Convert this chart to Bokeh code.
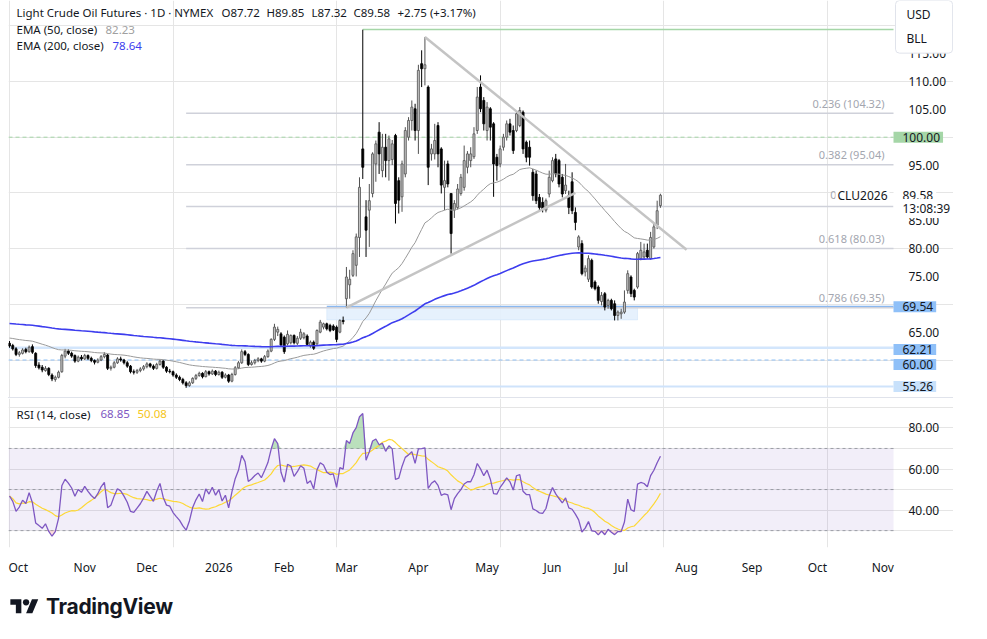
import numpy as np
import pandas as pd
from bokeh.plotting import figure
from bokeh.models import (Range1d, LinearAxis, FixedTicker, Label, BoxAnnotation,
                          Div, ColumnDataSource, NumeralTickFormatter)
from bokeh.layouts import column
from bokeh.embed import file_html
from bokeh.resources import INLINE

# ---------------- data ----------------
FIRST_DAY = "2025-10-01"
HOLIDAYS = ["2025-11-27", "2025-12-25", "2026-01-01", "2026-01-19", "2026-02-16",
            "2026-04-03", "2026-05-25", "2026-06-19", "2026-07-03"]

open_ = [63.0, 62.6, 62.0, 61.0, 61.2, 61.9, 61.5, 62.4, 61.2, 59.1,
         58.7, 58.1, 58.5, 57.3, 56.5, 56.9, 57.9, 60.7, 61.6, 61.2,
         60.8, 59.8, 60.5, 60.2, 60.8, 60.3, 59.9, 59.6, 60.0, 60.6,
         60.9, 58.5, 58.7, 59.5, 60.2, 60.0, 59.5, 58.9, 57.9, 57.8,
         58.1, 58.4, 58.8, 59.3, 58.9, 58.5, 59.2, 59.8, 58.7, 58.0,
         57.9, 57.3, 56.9, 56.5, 55.9, 55.4, 55.9, 56.7, 57.2, 57.6,
         57.0, 57.9, 57.5, 58.0, 57.4, 57.8, 56.9, 57.3, 56.2, 57.4,
         58.6, 59.5, 61.5, 61.0, 59.2, 59.5, 59.9, 60.2, 59.8, 60.6,
         61.6, 63.7, 65.0, 64.7, 64.1, 62.9, 63.1, 64.4, 63.0, 63.9,
         64.0, 64.3, 62.5, 63.2, 62.9, 65.0, 65.9, 66.5, 66.2, 66.1,
         65.9, 65.0, 67.1,
         71.0, 73.5, 75.2, 77.0, 82.0, 97.9, 85.7, 86.9, 89.9, 95.2,
         100.9, 94.0, 98.2, 95.8, 96.0, 100.3, 92.2, 89.3, 93.4, 100.0,
         103.0, 105.1, 101.2, 113.2, 112.3, 109.0, 97.0, 97.0, 102.1, 97.9,
         91.0, 95.2, 89.9, 86.9, 87.4, 89.9, 91.0, 94.6, 95.8, 96.5,
         101.2, 109.0, 106.6, 101.2, 105.1, 102.4, 96.4, 95.2, 98.2, 100.0,
         102.4, 101.2, 101.2, 102.1, 104.5, 99.1, 98.2, 93.7, 93.4, 89.2,
         88.3, 86.9, 89.8, 92.2, 96.1, 95.8, 92.8, 90.4, 89.5, 92.0,
         86.5, 80.3, 80.9, 75.8, 74.5, 77.9, 74.0, 73.1, 70.5, 71.9,
         69.8, 70.7, 70.1, 68.0, 68.3, 68.6, 72.5, 74.9, 72.5, 73.1,
         78.2, 78.5, 79.7, 78.2, 80.3, 84.2, 87.72]
high = [63.4, 62.9, 62.3, 61.6, 62.1, 62.2, 62.6, 62.8, 61.4, 59.6,
        59.1, 58.9, 58.7, 57.6, 57.2, 58.1, 61.1, 62.0, 61.9, 61.5,
        61.0, 60.8, 60.9, 61.1, 61.0, 60.6, 60.1, 60.3, 60.9, 61.4,
        61.1, 59.0, 59.8, 60.5, 60.6, 60.2, 59.8, 59.1, 58.3, 58.4,
        58.7, 59.1, 59.6, 59.5, 59.2, 59.5, 60.1, 60.0, 58.9, 58.4,
        58.1, 57.6, 57.2, 56.8, 56.2, 56.2, 56.9, 57.5, 57.9, 57.8,
        58.2, 58.1, 58.3, 58.2, 58.1, 58.0, 57.6, 57.5, 57.7, 58.9,
        59.8, 61.9, 61.8, 61.2, 59.9, 60.2, 60.5, 60.4, 60.9, 61.9,
        63.9, 66.5, 66.0, 65.0, 64.4, 65.3, 64.6, 64.6, 64.3, 65.6,
        65.0, 64.6, 63.5, 63.5, 65.5, 67.2, 66.7, 66.7, 66.5, 66.4,
        66.2, 67.3, 67.8,
        76.7, 76.2, 79.7, 82.7, 92.8, 119.3, 88.7, 91.6, 97.3, 99.4,
        102.7, 100.6, 100.6, 100.3, 99.5, 100.6, 92.8, 95.8, 101.8, 103.6,
        106.6, 106.0, 113.0, 115.6, 118.0, 109.3, 98.8, 102.4, 102.7, 98.2,
        95.8, 95.8, 89.9, 88.7, 91.6, 93.4, 98.5, 97.5, 98.2, 101.8,
        109.0, 111.1, 107.2, 106.3, 105.4, 102.7, 97.0, 98.5, 100.6, 103.0,
        103.3, 102.1, 104.5, 105.4, 104.8, 99.4, 99.4, 94.3, 94.0, 89.8,
        89.2, 89.0, 94.0, 96.4, 97.0, 96.1, 93.4, 95.2, 90.4, 93.7,
        87.4, 82.4, 81.5, 77.0, 78.8, 78.2, 74.3, 73.4, 72.2, 72.2,
        71.0, 71.0, 70.7, 68.9, 69.2, 72.5, 76.1, 75.2, 72.8, 79.4,
        81.2, 80.9, 80.9, 83.0, 84.5, 88.6, 89.85]
low = [62.2, 61.7, 60.7, 60.6, 61.0, 61.2, 61.3, 61.1, 58.6, 58.3,
       57.8, 57.9, 57.1, 56.2, 56.1, 56.7, 57.7, 60.3, 60.9, 60.4,
       59.5, 59.6, 59.9, 60.0, 60.0, 59.6, 59.2, 59.4, 59.8, 60.3,
       58.2, 58.1, 58.5, 59.3, 59.7, 59.2, 58.6, 57.6, 57.4, 57.5,
       57.8, 58.1, 58.5, 58.6, 58.2, 58.3, 59.0, 58.4, 57.7, 57.6,
       57.0, 56.6, 56.2, 55.6, 55.0, 55.2, 55.7, 56.4, 57.0, 56.7,
       56.9, 57.2, 57.3, 57.1, 57.2, 56.6, 56.7, 55.9, 56.0, 57.2,
       58.4, 59.3, 60.7, 58.9, 59.0, 59.2, 59.6, 59.5, 59.6, 60.4,
       61.4, 63.4, 64.3, 62.4, 61.1, 62.6, 62.8, 62.8, 62.7, 63.6,
       63.7, 62.5, 62.2, 61.8, 62.7, 64.8, 65.5, 65.3, 65.0, 65.2,
       63.2, 64.8, 66.4,
       69.4, 71.0, 74.9, 75.0, 78.5, 92.5, 78.5, 80.3, 89.2, 92.0,
       93.4, 92.8, 92.8, 92.2, 95.0, 84.5, 86.3, 86.6, 92.8, 99.4,
       101.2, 99.4, 97.0, 109.0, 109.3, 91.4, 95.8, 96.0, 94.6, 89.9,
       86.9, 91.0, 79.1, 85.5, 87.0, 89.5, 90.4, 93.5, 94.6, 96.1,
       100.6, 104.5, 101.2, 99.4, 99.4, 89.3, 92.2, 94.6, 97.6, 99.4,
       100.3, 97.0, 100.9, 101.8, 97.0, 95.5, 94.9, 88.6, 88.0, 86.9,
       86.5, 86.5, 89.2, 91.9, 92.8, 91.0, 89.2, 89.8, 86.2, 86.2,
       83.3, 79.7, 75.2, 75.0, 74.0, 72.8, 72.5, 70.1, 69.8, 68.9,
       69.2, 68.9, 67.1, 67.1, 67.4, 68.3, 71.9, 71.3, 70.7, 72.8,
       77.9, 78.0, 78.2, 78.0, 80.0, 83.5, 87.32]
close = [62.5, 62.0, 61.0, 61.3, 61.8, 61.5, 62.3, 61.4, 59.0, 58.6,
         58.2, 58.5, 57.4, 56.6, 56.9, 57.8, 60.8, 61.6, 61.2, 60.7,
         59.8, 60.5, 60.2, 60.8, 60.3, 59.9, 59.6, 60.0, 60.6, 61.0,
         58.5, 58.7, 59.5, 60.2, 60.0, 59.5, 58.9, 57.9, 57.8, 58.1,
         58.4, 58.8, 59.3, 58.9, 58.5, 59.2, 59.8, 58.7, 58.0, 57.9,
         57.3, 56.9, 56.5, 55.9, 55.4, 55.9, 56.7, 57.2, 57.6, 57.0,
         57.9, 57.5, 58.0, 57.4, 57.8, 56.9, 57.3, 56.2, 57.4, 58.6,
         59.5, 61.5, 61.0, 59.2, 59.5, 59.9, 60.2, 59.8, 60.6, 61.6,
         63.7, 65.9, 65.5, 62.7, 61.5, 64.6, 64.4, 63.1, 63.9, 65.0,
         64.7, 62.8, 63.2, 62.1, 65.3, 66.8, 66.5, 65.6, 65.3, 65.4,
         63.7, 67.1, 66.9,
         74.9, 74.5, 79.1, 82.1, 91.0, 94.6, 83.3, 88.6, 97.0, 98.8,
         97.0, 98.2, 95.8, 99.7, 98.8, 88.1, 88.7, 95.2, 101.2, 103.0,
         105.4, 101.2, 112.0, 112.3, 113.0, 94.6, 97.9, 99.4, 97.0, 91.4,
         92.2, 91.6, 82.7, 88.1, 90.7, 92.8, 95.8, 97.0, 97.0, 100.6,
         107.2, 105.1, 102.4, 105.4, 101.8, 95.2, 94.9, 97.9, 100.0, 102.4,
         100.9, 97.6, 104.2, 104.8, 97.9, 96.4, 96.4, 89.5, 88.6, 87.4,
         87.1, 88.6, 92.8, 95.8, 93.4, 91.6, 89.8, 91.4, 87.4, 86.8,
         84.7, 82.1, 75.5, 76.5, 78.2, 73.1, 72.8, 70.7, 71.6, 69.5,
         70.7, 69.2, 68.0, 68.6, 68.6, 70.4, 75.5, 71.9, 71.3, 79.1,
         79.7, 79.4, 78.5, 82.0, 83.9, 86.8, 89.58]

EMA50_START = 64.0
EMA200_START = 66.6
RSI_SEED_GAIN = 0.30
RSI_SEED_LOSS = 0.34

# drawings (anchor date, price)
FIB_LOW = ("2025-12-17", 55.76)
FIB_HIGH = ("2026-03-09", 119.32)
FIB_LEVELS = [0.236, 0.382, 0.5, 0.618, 0.786]
FIB_TEXT = ["0.236 (104.32)", "0.382 (95.04)", "", "0.618 (80.03)", "0.786 (69.35)"]
TRI_DOWN = [("2026-04-06", 118.0), ("2026-07-30", 79.8)]
TRI_UP = [("2026-03-02", 69.4), ("2026-06-10", 90.0)]
ZONE = ("2026-02-20", "2026-07-09", 67.2, 69.54)
LEVEL_GREEN = 100.00
LEVEL_6221 = 62.21
LEVEL_60 = 60.00
LEVEL_5526 = 55.26

PRICE_TICKS = [65, 75, 80, 85, 95, 105, 110, 115]
RSI_TICKS = [40, 60, 80]
RSI_BANDS = [70, 50, 30]
MONTH_NAMES = ["Jan", "Feb", "Mar", "Apr", "May", "Jun", "Jul", "Aug", "Sep", "Oct", "Nov", "Dec"]
FUTURE_MONTHS = ["2026-08-01", "2026-09-01", "2026-10-01", "2026-11-01"]

# ---------------- calendar / indicators ----------------
cal = pd.bdate_range(FIRST_DAY, "2026-12-31")
cal = cal[~cal.isin(pd.to_datetime(HOLIDAYS))]
n = len(close)
dates = cal[:n]
idx = np.arange(n)


def bar(d):
    return int(cal.get_loc(pd.Timestamp(d)))


o = np.array(open_); h = np.array(high); l = np.array(low); c = np.array(close)


def ema(start, period):
    k = 2.0 / (period + 1)
    e = start
    out = []
    for v in c:
        e = e + k * (v - e)
        out.append(e)
    return np.array(out)


ema50 = ema(EMA50_START, 50)
ema200 = ema(EMA200_START, 200)

ag, al = RSI_SEED_GAIN, RSI_SEED_LOSS
rsi = [100 - 100 / (1 + ag / al)]
for i in range(1, n):
    d = c[i] - c[i - 1]
    ag = (ag * 13 + max(d, 0)) / 14
    al = (al * 13 + max(-d, 0)) / 14
    rsi.append(100 - 100 / (1 + ag / al))
rsi = np.array(rsi)
rsi_ma = pd.Series(rsi).rolling(14, min_periods=1).mean().values

# month ticks
tick_pos, tick_lab = [], []
prev = None
for i, d in enumerate(dates):
    key = (d.year, d.month)
    if key != prev:
        tick_pos.append(i)
        tick_lab.append(str(d.year) if d.month == 1 else MONTH_NAMES[d.month - 1])
        prev = key
jul1 = pd.Timestamp("2026-07-01")
for fm in FUTURE_MONTHS:
    t = pd.Timestamp(fm)
    tick_pos.append(int(round(bar("2026-07-01") + (t - jul1).days * 0.652)))
    tick_lab.append(MONTH_NAMES[t.month - 1])

# ---------------- geometry (page pixels of the reference) ----------------
FONT = "Noto Sans"
TXT = "#131722"
LEFT = 8              # page x of the chart's left edge
RIGHT = 953           # page x of the chart's right edge
SCALE_X = 893         # page x where the price scale column starts
PXB = 3.271           # pixels per bar
X0PX = 9.0            # page x of first bar
W = RIGHT - LEFT
XL = (LEFT - X0PX) / PXB
XF = (RIGHT - X0PX) / PXB
XS = (SCALE_X - X0PX) / PXB
MAIN_H = 397
PT = 110 + 81 / 5.57
PB = 110 - (MAIN_H - 81) / 5.57
RT = 94.33
RB = 21.78


def mx(px):
    return (px - X0PX) / PXB


def my(py):
    return PT - py * (PT - PB) / MAIN_H


def ry(py):
    return RT - (py - 398) * (RT - RB) / 150.0


def style_axis(ax, standoff):
    ax.axis_line_color = None
    ax.major_tick_line_color = None
    ax.minor_tick_line_color = None
    ax.major_label_standoff = standoff
    ax.major_label_text_font = FONT
    ax.major_label_text_font_size = "12px"
    ax.major_label_text_color = TXT


# ---------------- main price pane ----------------
p = figure(width=W, height=MAIN_H, x_range=Range1d(XL, XF), y_range=Range1d(PB, PT),
           output_backend="svg", toolbar_location=None,
           x_axis_location=None, y_axis_location=None,
           min_border_left=0, min_border_right=0, min_border_top=0, min_border_bottom=0)
p.outline_line_color = None

yax = LinearAxis(ticker=FixedTicker(ticks=PRICE_TICKS), formatter=NumeralTickFormatter(format="0.00"),
                 fixed_location=XS)
style_axis(yax, 9)
p.add_layout(yax, "right")

# horizontal levels
p.segment(x0=XL, y0=LEVEL_6221, x1=XS, y1=LEVEL_6221, line_color="#d3e6fc", line_width=2.5)
p.segment(x0=XL, y0=LEVEL_60, x1=XS, y1=LEVEL_60, line_color="#8fc0f5", line_width=1, line_dash="4 3")
p.segment(x0=XL, y0=LEVEL_GREEN, x1=XS, y1=LEVEL_GREEN, line_color="#a5d6a7", line_width=1, line_dash="4 3")
p.segment(x0=bar(FIB_LOW[0]), y0=LEVEL_5526, x1=XS, y1=LEVEL_5526, line_color="#cfe3fb", line_width=2)

zl, zr, zb, zt = bar(ZONE[0]), bar(ZONE[1]), ZONE[2], ZONE[3]
p.add_layout(BoxAnnotation(left=zl, right=zr, bottom=zb, top=zt, fill_color="#e3f0fd",
                           fill_alpha=0.9, line_color="#b7d5f6", line_width=1, level="underlay"))
p.segment(x0=zl, y0=zt, x1=XS, y1=zt, line_color="#8ab8f0", line_width=2)

fib_x0 = bar(FIB_LOW[0])
rng = FIB_HIGH[1] - FIB_LOW[1]
for lv, tx in zip(FIB_LEVELS, FIB_TEXT):
    pr = FIB_HIGH[1] - lv * rng
    p.segment(x0=fib_x0, y0=pr, x1=XS, y1=pr, line_color="#cfd1da", line_width=1.5)
    if tx:
        p.add_layout(Label(x=mx(884), y=pr, y_offset=10, text=tx, text_align="right",
                           text_baseline="middle", text_font=FONT, text_font_size="11px",
                           text_color="#a3a6af"))
p.segment(x0=bar(FIB_HIGH[0]), y0=FIB_HIGH[1], x1=XS, y1=FIB_HIGH[1],
          line_color="#a5d6a7", line_width=1.5)

# candles
up = c >= o
src = ColumnDataSource(dict(x=idx, h=h, l=l, top=np.maximum(o, c), bot=np.minimum(o, c),
                            fill=np.where(up, "#c2c2c2", "#000000"),
                            line=np.where(up, "#505050", "#000000")))
p.segment(x0="x", y0="l", x1="x", y1="h", line_color="line", line_width=1, source=src)
p.vbar(x="x", top="top", bottom="bot", width=0.62, fill_color="fill", line_color="line",
       line_width=0.8, source=src)

# EMAs
p.line(idx, ema50, line_color="#9a9a9a", line_width=1)
p.line(idx, ema200, line_color="#3d3dee", line_width=1.6)

# triangle
for seg in (TRI_DOWN, TRI_UP):
    p.line([bar(seg[0][0]), bar(seg[1][0])], [seg[0][1], seg[1][1]],
           line_color="#c4c4c4", line_width=2.5)


# legend texts
def lab(fig, px, y, text, color=TXT, size="11.5px", align="left", **kw):
    fig.add_layout(Label(x=mx(px), y=y, text=text, text_align=align, text_baseline="middle",
                         text_font=FONT, text_font_size=size, text_color=color, **kw))


lab(p, 16, my(12), "Light Crude Oil Futures · 1D · NYMEX")
lab(p, 221, my(12), "O87.72")
lab(p, 266, my(12), "H89.85")
lab(p, 311, my(12), "L87.32")
lab(p, 353, my(12), "C89.58")
lab(p, 397, my(12), "+2.75 (+3.17%)")
lab(p, 16, my(29), "EMA (50, close)")
lab(p, 105, my(29), "82.23", color="#a0a0a0")
lab(p, 16, my(45), "EMA (200, close)")
lab(p, 112, my(45), "78.64", color="#3d3dee")


# price scale value labels; the box starts at the scale edge, padding (left, right, top, bottom)
def axlab(y, text, bg, fg=TXT):
    p.add_layout(Label(x=XS, y=y, text=text, text_align="left", text_baseline="middle",
                       text_font=FONT, text_font_size="12px", text_color=fg,
                       background_fill_color=bg, padding=(9, 3, 1, 1)))


axlab(LEVEL_GREEN, "100.00", "#a5d6a7")
axlab(ZONE[3], "69.54", "#8fc0f8")
axlab(my(349), "62.21", "#8fc0f8")
axlab(my(364), "60.00", "#8fc0f8")
axlab(LEVEL_5526, "55.26", "#c8e1fb")
axlab(close[-1], "89.58", "white")
axlab(my(208), "13:08:39", "white")

lab(p, 836, close[-1], "0", color="#a3a6af", size="11px", align="right")
p.add_layout(Label(x=mx(889), y=close[-1], text="CLU2026", text_align="right", text_baseline="middle",
                   text_font=FONT, text_font_size="12px", text_color=TXT,
                   background_fill_color="white", padding=(2, 2, 1, 1)))
p.add_layout(Label(x=mx(895), y=my(0), text="USD\nBLL", text_align="left", text_baseline="top",
                   text_font=FONT, text_font_size="12px", text_color=TXT, text_line_height=1.45,
                   background_fill_color="white", border_line_color="#e0e3eb", border_radius=4,
                   padding=(11, 22, 5, 6)))

# ---------------- RSI pane ----------------
r = figure(width=W, height=180, x_range=p.x_range, y_range=Range1d(RB, RT),
           output_backend="svg", toolbar_location=None,
           x_axis_location=None, y_axis_location=None,
           min_border_left=0, min_border_right=0, min_border_top=0, min_border_bottom=30)
r.outline_line_color = None
r.add_layout(BoxAnnotation(left=XL, right=XS, bottom=RSI_BANDS[2], top=RSI_BANDS[0],
                           fill_color="#7e57c2", fill_alpha=0.1, line_color=None, level="underlay"))
for lv in RSI_BANDS:
    r.segment(x0=XL, y0=lv, x1=XS, y1=lv, line_color="#8a8d96", line_width=1,
              line_dash="3 3", line_alpha=0.8)
r.varea(x=idx, y1=70, y2=np.maximum(rsi, 70), fill_color="#66bb6a", fill_alpha=0.45)
r.varea(x=idx, y1=np.minimum(rsi, 30), y2=30, fill_color="#ef5350", fill_alpha=0.2)
r.line(idx, rsi_ma, line_color="#fdd835", line_width=1.2)
r.line(idx, rsi, line_color="#7e57c2", line_width=1.3)

rax = LinearAxis(ticker=FixedTicker(ticks=RSI_TICKS), formatter=NumeralTickFormatter(format="0.00"),
                 fixed_location=XS)
style_axis(rax, 9)
r.add_layout(rax, "right")

xax = LinearAxis(ticker=FixedTicker(ticks=tick_pos),
                 major_label_overrides={int(k): v for k, v in zip(tick_pos, tick_lab)})
style_axis(xax, 5)
r.add_layout(xax, "below")

r.add_layout(Label(x=mx(16), y=ry(414), text="RSI (14, close)", text_baseline="middle",
                   text_font=FONT, text_font_size="11.5px", text_color=TXT))
r.add_layout(Label(x=mx(100), y=ry(414), text="68.85", text_baseline="middle",
                   text_font=FONT, text_font_size="11.5px", text_color="#7e57c2"))
r.add_layout(Label(x=mx(137), y=ry(414), text="50.08", text_baseline="middle",
                   text_font=FONT, text_font_size="11.5px", text_color="#f5c518"))

sep = Div(text="", width=W, height=1, margin=0, styles={"background-color": "#e0e3eb"})

logo_html = (
    '<div style="display:flex;align-items:center;gap:7px;font-family:Inter;font-weight:700;'
    'font-size:21px;color:#131722;letter-spacing:-0.3px">'
    '<svg width="29" height="22" viewBox="0 0 36 28"><path d="M14 22H7V11H0V4h14v18zM28 22h-8l7.5-18h8L28 22z" '
    'fill="#131722"/><circle cx="20" cy="8" r="4" fill="#131722"/></svg><span>TradingView</span></div>'
)
logo = Div(text=logo_html, width=300, height=30, margin=(14, 0, 0, 2))

layout = column(p, sep, r, logo, spacing=0, margin=(0, 0, 0, LEFT))
open("out.html", "w").write(file_html(layout, INLINE))
